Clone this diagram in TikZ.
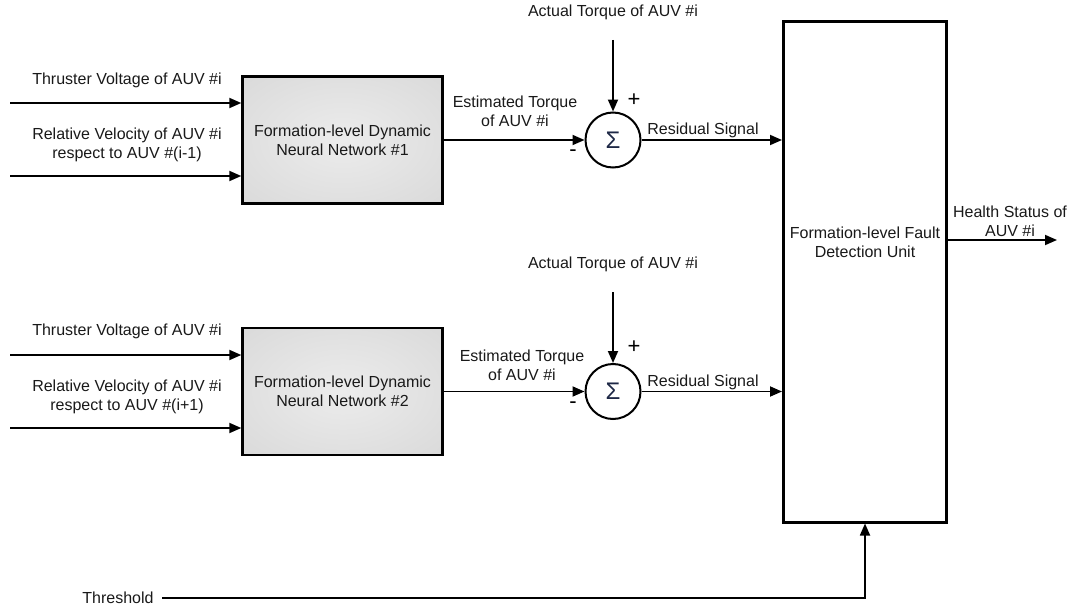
\documentclass[tikz,border=0pt]{standalone}
\usepackage{fontspec}
\setmainfont{Liberation Sans}
\usetikzlibrary{arrows.meta,calc}
\definecolor{nninner}{RGB}{236,236,236}
\definecolor{nnouter}{RGB}{200,200,200}
\definecolor{sigmacol}{RGB}{30,40,70}
\pgfdeclareradialshading{nnshade}{\pgfpoint{0bp}{0bp}}{%
  color(0bp)=(nninner); color(71bp)=(nnouter)}
\begin{document}
\begin{tikzpicture}[x=1pt,y=-1pt,
  txt/.style={font=\fontsize{16}{19}\selectfont, text=black!90, align=center, inner sep=0pt},
  sign/.style={font=\fontsize{22}{22}\selectfont, inner sep=0pt},
  nnbox/.style={draw=black, line width=2.4pt, shading=nnshade,
    minimum width=200pt, minimum height=127pt, inner sep=0pt,
    font=\fontsize{16}{19}\selectfont, text=black!90, align=center},
  sumnode/.style={circle, draw, line width=2pt, fill=white, minimum size=55pt, inner sep=0pt,
    font=\fontsize{24}{24}\selectfont, text=sigmacol},
  fdubox/.style={draw, line width=3pt, fill=white, minimum width=163pt, minimum height=500pt, inner sep=0pt},
  arr/.style={line width=1.8pt, -{Triangle[length=12pt,width=10pt]}}]
\useasboundingbox (0,0) rectangle (1076,610);

% processing blocks
\node[nnbox] (nn1) at (342.5,140) {Formation-level Dynamic\\Neural Network \#1};
\node[nnbox] (nn2) at (342.5,391.5) {Formation-level Dynamic\\Neural Network \#2};
\node[sumnode] (s1) at (613,140) {Σ};
\node[sumnode] (s2) at (613,391.5) {Σ};
\node[fdubox] (fdu) at (865,272) {};
\node[txt] (fdutxt) at (865,242) {Formation-level Fault\\Detection Unit};

% inputs of the first network
\coordinate (i1a) at (10,103);
\coordinate (i1b) at (10,176);
\node[txt] (l1a) at (127,80) {Thruster Voltage of AUV \#i};
\node[txt] (l1b) at (127,145) {Relative Velocity of AUV \#i\\respect to AUV \#(i-1)};
\draw[arr] (i1a) -- (i1a -| nn1.west);
\draw[arr] (i1b) -- (i1b -| nn1.west);

% inputs of the second network
\coordinate (i2a) at (10,355);
\coordinate (i2b) at (10,428);
\node[txt] (l2a) at (127,331) {Thruster Voltage of AUV \#i};
\node[txt] (l2b) at (127,397) {Relative Velocity of AUV \#i\\respect to AUV \#(i+1)};
\draw[arr] (i2a) -- (i2a -| nn2.west);
\draw[arr] (i2b) -- (i2b -| nn2.west);

% first residual path
\coordinate (a1) at (613,40);
\node[txt] (la1) at (613,12) {Actual Torque of AUV \#i};
\draw[arr] (a1) -- (s1.north);
\draw[arr] (nn1.east) -- (s1.west);
\node[txt] (le1) at (515,111) {Estimated Torque\\of AUV \#i};
\node[sign] (p1) at (634,100) {+};
\node[sign] (m1) at (573,153) {-};
\draw[arr] (s1.east) -- (s1.east -| fdu.west);
\node[txt] (lr1) at (703,130) {Residual Signal};

% second residual path
\coordinate (a2) at (613,292);
\node[txt] (la2) at (613,264) {Actual Torque of AUV \#i};
\draw[arr] (a2) -- (s2.north);
\draw[arr] (nn2.east) -- (s2.west);
\node[txt] (le2) at (522,365) {Estimated Torque\\of AUV \#i};
\node[sign] (p2) at (634,347) {+};
\node[sign] (m2) at (573,405) {-};
\draw[arr] (s2.east) -- (s2.east -| fdu.west);
\node[txt] (lr2) at (703,382) {Residual Signal};

% output
\coordinate (hs) at (1057,240);
\draw[arr] (fdu.east |- hs) -- (hs);
\node[txt] (lh) at (1010,221) {Health Status of\\AUV \#i};

% threshold
\node[txt] (thr) at (118,598) {Threshold};
\coordinate (th) at (162,598);
\draw[arr] (th) -| (fdu.south);
\end{tikzpicture}
\end{document}
